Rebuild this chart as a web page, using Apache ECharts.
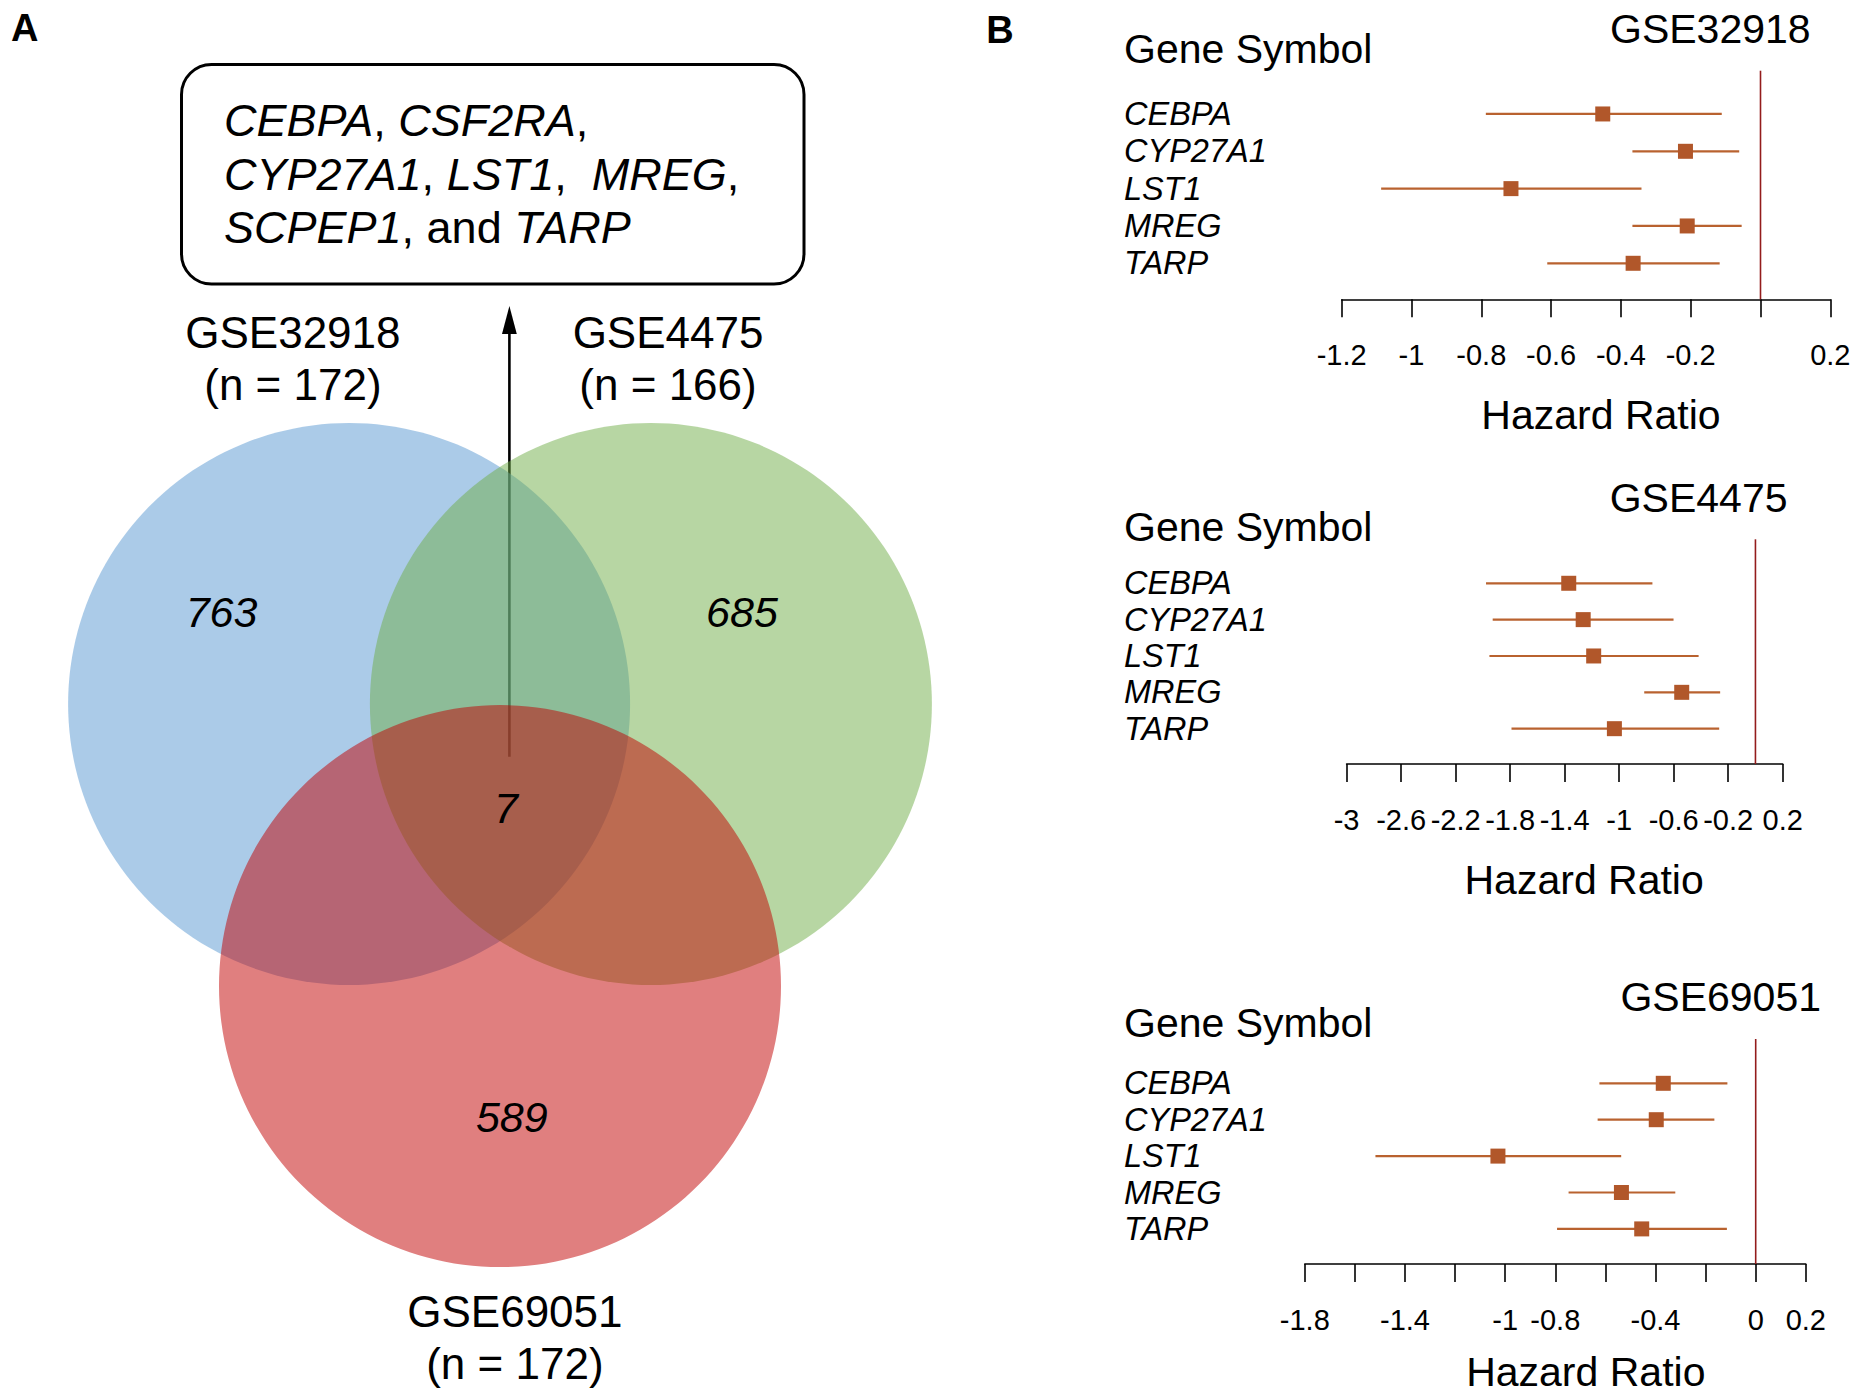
<!DOCTYPE html>
<html>
<head>
<meta charset="utf-8">
<script src="https://cdn.jsdelivr.net/npm/echarts@6/dist/echarts.min.js"></script>
<style>
html,body{margin:0;padding:0;background:#ffffff;}
#c{width:1852px;height:1400px;}
</style>
</head>
<body>
<div id="c"></div>
<script>
// ---------------- DATA ----------------
// Panel A: Venn diagram
const vennSets = ['GSE32918', 'GSE4475', 'GSE69051'];
const vennSampleN = [172, 166, 172];
const vennUnique = [763, 685, 589];
const vennCommon = 7;
const commonGenes = ['CEBPA', 'CSF2RA', 'CYP27A1', 'LST1', 'MREG', 'SCPEP1', 'TARP'];

// Panel B: forest plots
const genes = ['CEBPA', 'CYP27A1', 'LST1', 'MREG', 'TARP'];
const cohorts = ['GSE32918', 'GSE4475', 'GSE69051'];
const est32918 = [-0.452, -0.215, -0.715, -0.210, -0.365];
const lo32918  = [-0.787, -0.367, -1.087, -0.367, -0.611];
const hi32918  = [-0.111, -0.061, -0.341, -0.054, -0.117];
const est4475  = [-1.370, -1.264, -1.187, -0.541, -1.035];
const lo4475   = [-1.977, -1.928, -1.952, -0.816, -1.790];
const hi4475   = [-0.756, -0.601, -0.417, -0.259, -0.266];
const est69051 = [-0.369, -0.397, -1.029, -0.536, -0.455];
const lo69051  = [-0.624, -0.631, -1.518, -0.747, -0.793];
const hi69051  = [-0.113, -0.165, -0.537, -0.321, -0.115];
const axisMin  = [-1.2, -3, -1.8];
const axisMax  = [0.2, 0.2, 0.2];
const axisStep = [0.2, 0.4, 0.2];
const tickLabels32918 = ['-1.2', '-1', '-0.8', '-0.6', '-0.4', '-0.2', '0.2'];
const tickLabels4475  = ['-3', '-2.6', '-2.2', '-1.8', '-1.4', '-1', '-0.6', '-0.2', '0.2'];
const tickLabels69051 = ['-1.8', '-1.4', '-1', '-0.8', '-0.4', '0', '0.2'];
const nullEffect = 0;
const xAxisTitle = 'Hazard Ratio';
const rowHeader = 'Gene Symbol';

// ---------------- LAYOUT / STYLE ----------------
const F = "'Liberation Sans', Arial, Helvetica, sans-serif";
const BLACK = '#000000';
// Venn geometry in units of circle radius
const vennCircles = [
  { x: -0.537, y: 0.0, r: 1 },
  { x: 0.537, y: 0.0, r: 1 },
  { x: 0.0, y: 1.004, r: 1 }
];
const vennFill = ['rgba(87,151,209,0.5)', 'rgba(111,173,71,0.5)', 'rgba(193,0,0,0.5)'];
const vennSetLabelPos = [[-0.737, -1.228], [0.598, -1.228], [0.053, 2.254]];
const vennCountPos = [[-0.991, -0.326], [0.861, -0.326], [0.042, 1.47], [0.021, 0.37]];

const forestLayout = [
  { left: 1341.7, right: 1830.3, top: 95.3,   rowH: 37.33, axisY: 299.3, lineTop: 70.7,  titleRight: 1810.6, titleY: 29,    headerY: 49,     nameShift: 30, nameGap: 95 },
  { left: 1346.6, right: 1782.7, top: 565.1,  rowH: 36.35, axisY: 764,   lineTop: 539.3, titleRight: 1787.5, titleY: 498.3, headerY: 526.7,  nameShift: 39, nameGap: 95 },
  { left: 1304.8, right: 1805.8, top: 1065.1, rowH: 36.4,  axisY: 1264,  lineTop: 1039,  titleRight: 1821,   titleY: 997.3, headerY: 1023.3, nameShift: 61, nameGap: 87 }
];
const forestData = [
  { est: est32918, lo: lo32918, hi: hi32918, ticks: tickLabels32918 },
  { est: est4475,  lo: lo4475,  hi: hi4475,  ticks: tickLabels4475 },
  { est: est69051, lo: lo69051, hi: hi69051, ticks: tickLabels69051 }
];
const GENE_X = 1124;
const SQUARE = '#b1572a';
const CI_COLOR = '#b9622f';
const NULL_COLOR = '#931c1c';

// ---------------- BUILD ----------------
const chart = echarts.init(document.getElementById('c'), null, { renderer: 'svg', width: 1852, height: 1400 });

const grids = [
  { left: 500 - 1.75 * 281, top: 704 - 2.4 * 281, width: 3.5 * 281, height: 4.8 * 281, containLabel: false, outerBoundsMode: 'none' }
];
const xAxes = [{ gridIndex: 0, type: 'value', min: -1.75, max: 1.75, show: false }];
const yAxes = [{ gridIndex: 0, type: 'value', min: -2.4, max: 2.4, inverse: true, show: false }];
const series = [];

// Venn circles
series.push({
  type: 'custom', coordinateSystem: 'cartesian2d', xAxisIndex: 0, yAxisIndex: 0,
  silent: true, clip: false, animation: false,
  data: vennCircles.map((c, i) => [c.x, c.y, c.r, i]),
  renderItem: (params, api) => {
    const c = api.coord([api.value(0), api.value(1)]);
    const r = api.size([api.value(2), 0])[0];
    return { type: 'circle', shape: { cx: c[0], cy: c[1], r: r }, style: { fill: vennFill[api.value(3)], stroke: null } };
  }
});

// Venn texts (set names with n, region counts)
const vennTexts = [];
vennSets.forEach((s, i) => vennTexts.push({ p: vennSetLabelPos[i], text: s + '\n(n = ' + vennSampleN[i] + ')', size: 44, italic: false, lh: 52 }));
vennUnique.forEach((v, i) => vennTexts.push({ p: vennCountPos[i], text: String(v), size: 43, italic: true, lh: 43 }));
vennTexts.push({ p: vennCountPos[3], text: String(vennCommon), size: 43, italic: true, lh: 43 });
series.push({
  type: 'custom', coordinateSystem: 'cartesian2d', xAxisIndex: 0, yAxisIndex: 0,
  silent: true, clip: false, animation: false,
  data: vennTexts.map((t, i) => [t.p[0], t.p[1], i]),
  renderItem: (params, api) => {
    const t = vennTexts[api.value(2)];
    const p = api.coord([api.value(0), api.value(1)]);
    return { type: 'text', x: p[0], y: p[1], style: {
      text: t.text, fill: BLACK, fontSize: t.size, fontFamily: F,
      fontStyle: t.italic ? 'italic' : 'normal', lineHeight: t.lh,
      align: 'center', verticalAlign: 'middle'
    } };
  }
});

// Forest plots
const fmt = v => { const s = String(Number(Number(v).toFixed(1))); return s === '-0' ? '0' : s; };
forestLayout.forEach((L, i) => {
  const gi = i + 1;
  const h = L.rowH * genes.length;
  grids.push({ left: L.left, top: L.top, width: L.right - L.left, height: h, containLabel: false, outerBoundsMode: 'none' });
  const D = forestData[i];
  xAxes.push({
    gridIndex: gi, type: 'value', min: axisMin[i], max: axisMax[i], interval: axisStep[i],
    offset: L.axisY - (L.top + h),
    axisLine: { show: true, onZero: false, lineStyle: { color: BLACK, width: 1.6 } },
    axisTick: { show: true, length: 18, lineStyle: { color: BLACK, width: 1.6 } },
    axisLabel: { show: true, color: BLACK, fontSize: 29, fontFamily: F, margin: 41, showMinLabel: true, showMaxLabel: true,
      formatter: v => { const s = fmt(v); return D.ticks.indexOf(s) >= 0 ? s : ''; } },
    splitLine: { show: false },
    name: xAxisTitle, nameLocation: 'middle', nameGap: L.nameGap,
    nameTextStyle: { color: BLACK, fontSize: 41, fontFamily: F, padding: [0, 0, 0, L.nameShift] }
  });
  yAxes.push({
    gridIndex: gi, type: 'category', data: genes, inverse: true,
    axisLine: { show: false }, axisTick: { show: false }, splitLine: { show: false },
    axisLabel: { show: true, interval: 0, align: 'left', margin: L.left - GENE_X, color: BLACK,
      fontSize: 32.5, lineHeight: 32, fontStyle: 'italic', fontFamily: F }
  });
  // null-effect line
  series.push({
    type: 'custom', coordinateSystem: 'cartesian2d', xAxisIndex: gi, yAxisIndex: gi,
    silent: true, clip: false, animation: false,
    data: [[nullEffect, 0]],
    renderItem: (params, api) => {
      const p = api.coord([api.value(0), 0]);
      return { type: 'line', shape: { x1: p[0], y1: L.lineTop, x2: p[0], y2: L.axisY }, style: { stroke: NULL_COLOR, lineWidth: 1.6 } };
    }
  });
  // estimates with CI
  series.push({
    type: 'custom', coordinateSystem: 'cartesian2d', xAxisIndex: gi, yAxisIndex: gi,
    silent: true, clip: false, animation: false,
    encode: { x: [0, 2, 3], y: 1 },
    data: genes.map((g, k) => [D.est[k], k, D.lo[k], D.hi[k]]),
    renderItem: (params, api) => {
      const y = api.value(1);
      const a = api.coord([api.value(2), y]);
      const b = api.coord([api.value(3), y]);
      const e = api.coord([api.value(0), y]);
      return { type: 'group', children: [
        { type: 'line', shape: { x1: a[0], y1: a[1], x2: b[0], y2: b[1] }, style: { stroke: CI_COLOR, lineWidth: 2.2 } },
        { type: 'rect', shape: { x: e[0] - 7.5, y: e[1] - 7.5, width: 15, height: 15 }, style: { fill: SQUARE } }
      ] };
    }
  });
});

// Box text with italic gene names
const it = g => '{i|' + g + '}';
const nt = s => '{n|' + s + '}';
const boxText =
  it(commonGenes[0]) + nt(', ') + it(commonGenes[1]) + nt(',') + '\n' +
  it(commonGenes[2]) + nt(', ') + it(commonGenes[3]) + nt(',  ') + it(commonGenes[4]) + nt(',') + '\n' +
  it(commonGenes[5]) + nt(', and ') + it(commonGenes[6]);

const graphics = [
  { type: 'text', x: 24.7, y: 28, style: { text: 'A', fontSize: 38, fontWeight: 'bold', fontFamily: F, fill: BLACK, align: 'center', verticalAlign: 'middle' } },
  { type: 'text', x: 1000, y: 29.5, style: { text: 'B', fontSize: 38, fontWeight: 'bold', fontFamily: F, fill: BLACK, align: 'center', verticalAlign: 'middle' } },
  { type: 'rect', shape: { x: 181.5, y: 64.5, width: 622.5, height: 219.5, r: 30 }, style: { fill: 'rgba(0,0,0,0)', stroke: BLACK, lineWidth: 3 } },
  { type: 'text', x: 224, y: 174, style: { text: boxText, fill: BLACK, fontFamily: F, fontSize: 45, align: 'left', verticalAlign: 'middle',
      rich: { i: { fontStyle: 'italic', fontSize: 45, fontFamily: F, lineHeight: 53.6 }, n: { fontSize: 45, fontFamily: F, lineHeight: 53.6 } } } },
  { type: 'line', shape: { x1: 509.4, y1: 756.7, x2: 509.4, y2: 330 }, style: { stroke: BLACK, lineWidth: 2.6 } },
  { type: 'polygon', shape: { points: [[509.4, 306], [502, 334], [516.8, 334]] }, style: { fill: BLACK } }
];
forestLayout.forEach((L, i) => {
  graphics.push({ type: 'text', x: GENE_X, y: L.headerY, style: { text: rowHeader, fontSize: 41, fontFamily: F, fill: BLACK, align: 'left', verticalAlign: 'middle' } });
  graphics.push({ type: 'text', x: L.titleRight, y: L.titleY, style: { text: cohorts[i], fontSize: 41, fontFamily: F, fill: BLACK, align: 'right', verticalAlign: 'middle' } });
});

chart.setOption({
  animation: false,
  backgroundColor: '#ffffff',
  textStyle: { fontFamily: F },
  grid: grids,
  xAxis: xAxes,
  yAxis: yAxes,
  series: series,
  graphic: { elements: graphics }
});
</script>
</body>
</html>
